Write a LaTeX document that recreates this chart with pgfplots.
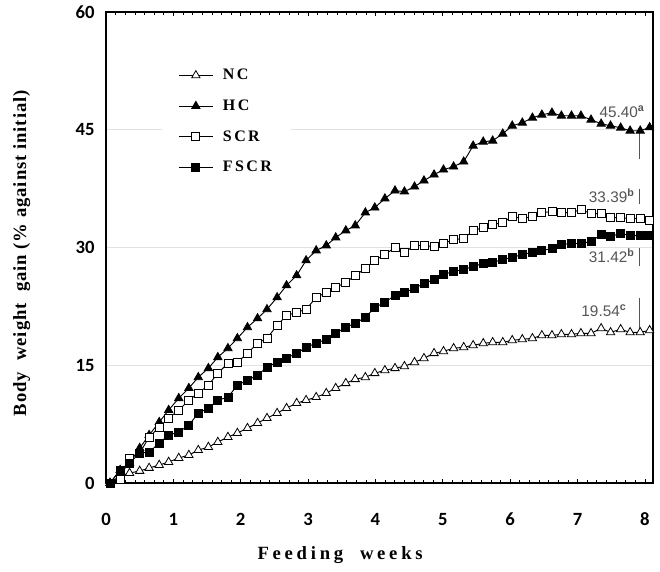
\documentclass[border=0pt]{standalone}
\usepackage{fontspec}
\setmainfont{Liberation Serif}
\newfontfamily\tickfont{Carlito}
\newfontfamily\annfont{Liberation Sans}
\newfontfamily\legfont[LetterSpace=15]{Liberation Serif}
\newfontfamily\xlabfont[LetterSpace=20]{Liberation Serif}
\newfontfamily\ylabfont[LetterSpace=5]{Liberation Serif}
\usepackage{pgfplots}
\usepackage{pgfplotstable}
\pgfplotsset{compat=1.18}
\usetikzlibrary{calc}

\pgfplotstableread{
x NC HC SCR FSCR
0.06 0 0 0 0
0.21 0.89 1.65 0.51 1.65
0.35 1.27 2.54 3.18 2.54
0.50 1.53 4.45 3.81 3.81
0.64 1.91 6.10 5.84 3.94
0.79 2.29 7.75 7.12 5.08
0.93 2.67 9.28 8.26 6.10
1.08 3.18 10.80 9.28 6.48
1.23 3.56 12.08 10.55 7.37
1.37 4.19 13.47 11.44 8.90
1.52 4.58 14.62 12.46 9.53
1.66 5.21 16.02 13.98 10.55
1.81 5.85 17.16 15.25 10.93
1.95 6.36 18.43 15.38 12.46
2.10 6.99 19.83 16.53 13.09
2.25 7.63 20.97 17.80 13.73
2.39 8.26 22.12 18.43 14.75
2.54 8.90 23.64 20.08 15.38
2.68 9.53 25.17 21.35 15.89
2.83 10.17 26.44 21.74 16.52
2.97 10.55 28.35 22.12 17.29
3.12 10.93 29.62 23.64 17.80
3.27 11.44 30.25 24.28 18.30
3.41 12.08 31.27 24.91 19.07
3.56 12.71 32.16 25.55 19.83
3.70 13.22 32.80 26.44 20.34
3.85 13.47 34.45 27.33 21.10
3.99 13.98 35.08 28.35 22.37
4.14 14.36 36.23 29.11 23.01
4.29 14.62 37.24 30.00 23.90
4.43 14.87 37.12 29.37 24.28
4.58 15.38 37.75 30.25 24.79
4.72 15.89 38.52 30.25 25.42
4.87 16.53 39.28 30.12 25.93
5.01 16.78 39.91 30.50 26.57
5.16 17.16 40.30 31.01 26.95
5.31 17.29 40.93 31.14 27.20
5.45 17.54 42.96 32.16 27.58
5.60 17.79 43.47 32.54 27.97
5.74 17.92 43.60 32.92 28.09
5.89 17.92 44.49 33.18 28.47
6.03 18.18 45.51 33.94 28.73
6.18 18.30 45.89 33.68 29.11
6.33 18.43 46.52 33.94 29.37
6.47 18.81 46.91 34.45 29.62
6.62 18.81 47.16 34.57 29.87
6.76 18.94 46.78 34.45 30.38
6.91 18.94 46.78 34.45 30.51
7.05 19.07 46.78 34.83 30.51
7.20 19.07 46.27 34.32 30.76
7.35 19.70 45.76 34.32 31.65
7.49 19.19 45.51 33.81 31.40
7.64 19.58 45.25 33.81 31.78
7.78 19.19 44.87 33.69 31.52
7.93 19.19 44.87 33.69 31.52
8.07 19.45 45.30 33.43 31.52
}\bwdata

\definecolor{anncol}{HTML}{555555}
\definecolor{gridcol}{HTML}{E2E2E2}

\begin{document}
\begin{tikzpicture}
\begin{axis}[
  scale only axis,
  width=410.25pt, height=353.25pt,
  xmin=0, xmax=8.12, ymin=0, ymax=60,
  xtick={0,1,2,3,4,5,6,7,8},
  minor x tick num=6,
  ytick={0,15,30,45,60},
  ymajorgrids,
  grid style={gridcol, line width=0.6pt},
  axis line style={black, line width=1pt},
  xtick style={black, line width=0.5pt},
  major tick length=3pt,
  minor tick length=2pt,
  ytick style={draw=none},
  /pgf/number format/assume math mode=true,
  ticklabel style={font=\tickfont\bfseries\fontsize{14}{14}\selectfont},
  xticklabel style={yshift=-19pt},
  yticklabel style={xshift=-5pt},
  xlabel={Feeding\ \ weeks},
  xlabel style={font=\xlabfont\bfseries\fontsize{14}{15}\selectfont,
    at={(axis description cs:0.428,-0.153)}, anchor=center},
  ylabel={Body\ \ weight\ \ gain (\% against initial)},
  ylabel style={font=\ylabfont\bfseries\fontsize{14}{15}\selectfont,
    at={(axis description cs:-0.154,0.488)}, anchor=center},
  legend style={at={(axis description cs:0.102,0.902)}, anchor=north west,
    draw=none, fill=white, inner xsep=12pt, inner ysep=6pt,
    row sep=9.6pt,
    /tikz/every odd column/.append style={column sep=5pt},
    font=\legfont\bfseries\fontsize{12}{13}\selectfont},
  legend cell align=left,
  legend image code/.code={
    \draw[#1, mark=none] (0pt,0pt) -- (26pt,0pt);
    \draw[#1, only marks] plot coordinates {(13pt,0pt)};
  },
  every axis plot/.append style={black, line width=0.7pt},
]
\addplot[mark=triangle*, mark size=3.6pt, mark options={fill=white, line width=0.6pt}] table[x=x, y=NC] {\bwdata};
\addlegendentry{NC}
\addplot[mark=triangle*, mark size=3.6pt, mark options={fill=black, line width=0.6pt}] table[x=x, y=HC] {\bwdata};
\addlegendentry{HC}
\addplot[mark=square*, mark size=3pt, mark options={fill=white, line width=0.6pt}] table[x=x, y=SCR] {\bwdata};
\addlegendentry{SCR}
\addplot[mark=square*, mark size=3pt, mark options={fill=black, line width=0.6pt}] table[x=x, y=FSCR] {\bwdata};
\addlegendentry{FSCR}

\draw[anncol, line width=0.6pt] (axis cs:7.92,45.1) -- (axis cs:7.92,41.3);
\draw[anncol, line width=0.6pt] (axis cs:7.92,37.5) -- (axis cs:7.92,35.6);
\draw[anncol, line width=0.6pt] (axis cs:7.92,29.9) -- (axis cs:7.92,27.6);
\draw[anncol, line width=0.6pt] (axis cs:7.92,23.6) -- (axis cs:7.92,19.3);
\node[anchor=east, inner sep=0pt, text=anncol, font=\annfont\fontsize{11.5}{12}\selectfont] at (axis cs:8.0,47.3) {45.40\textsuperscript{\textbf{a}}};
\node[anchor=east, inner sep=0pt, text=anncol, font=\annfont\fontsize{11.5}{12}\selectfont] at (axis cs:7.85,36.6) {33.39\textsuperscript{\textbf{b}}};
\node[anchor=east, inner sep=0pt, text=anncol, font=\annfont\fontsize{11.5}{12}\selectfont] at (axis cs:7.85,29.0) {31.42\textsuperscript{\textbf{b}}};
\node[anchor=east, inner sep=0pt, text=anncol, font=\annfont\fontsize{11.5}{12}\selectfont] at (axis cs:7.73,22.0) {19.54\textsuperscript{\textbf{c}}};

\coordinate (sw) at (rel axis cs:0,0);
\coordinate (ne) at (rel axis cs:1,1);
\end{axis}
\pgfresetboundingbox
\path ($(sw)+(-79.5pt,-66.75pt)$) rectangle ($(ne)+(5.25pt,9pt)$);
\end{tikzpicture}
\end{document}
